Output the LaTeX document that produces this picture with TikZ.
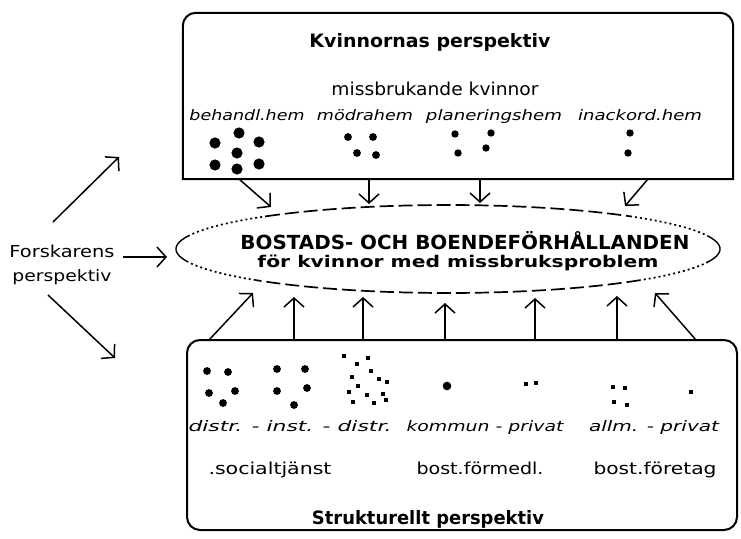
\documentclass[tikz,border=0pt]{standalone}
\usepackage{fontspec}
\setmainfont{DejaVu Sans}
\usetikzlibrary{arrows.meta,calc,shapes.geometric}
\newcommand{\fitw}[3]{\resizebox{#1pt}{#2pt}{#3}}
\newcommand{\elarc}[3]{\draw[#1] plot[domain=#2:#3,samples=40] ({448+272*cos(\x)},{249+44*sin(\x)});}
\begin{document}
\begin{tikzpicture}[x=1pt,y=-1pt,
  boxline/.style={line width=2pt},
  arr/.style={line width=1.5pt,-{Straight Barb[length=9pt,width=20pt,line width=1.5pt]}},
  txt/.style={inner sep=0pt,anchor=base},
  elsolid/.style={line width=1.4pt},
  eldot/.style={line width=1.7pt,dash pattern=on 2pt off 3pt},
  eldash/.style={line width=1.7pt,dash pattern=on 14pt off 5pt}]
\useasboundingbox (0,0) rectangle (741,538);

% ---- top box ----
\node[minimum width=550pt,minimum height=166pt,inner sep=0pt] (kv) at (458,96) {};
\draw[boxline] (kv.south east) -- (kv.south west) -- ([yshift=-13pt]kv.north west)
  arc[start angle=180,end angle=90,radius=13pt]
  -- ([xshift=-13pt]kv.north east)
  arc[start angle=90,end angle=0,radius=13pt] -- cycle;
\node[txt] (kvt) at (430,47) {\fitw{241}{14}{\bfseries Kvinnornas perspektiv}};
\node[txt] (miss) at (435,95) {\fitw{207}{13.5}{missbrukande kvinnor}};
\node[txt] (h1) at (247,120) {\fitw{115}{11}{\itshape behandl.hem}};
\node[txt] (h2) at (365,120) {\fitw{96}{11}{\itshape mödrahem}};
\node[txt] (h3) at (494,120) {\fitw{136}{11}{\itshape planeringshem}};
\node[txt] (h4) at (640,120) {\fitw{124}{11}{\itshape inackord.hem}};
% dots
\foreach \p in {(215,143),(239,133),(259,142),(237,153),(215,165),(237,169),(259,164)}
  \fill \p circle (5.6);
\foreach \p in {(348,137),(373,137),(357,153),(376,155)}
  \fill \p circle (3.9);
\foreach \p in {(455,134),(491,133),(458,153),(486,148)}
  \fill \p circle (3.7);
\foreach \p in {(630,133),(628,153)}
  \fill \p circle (3.7);

% ---- ellipse ----
\node[ellipse,minimum width=544pt,minimum height=88pt,inner sep=0pt] (ell) at (448,249) {};
\elarc{elsolid}{163}{197}
\elarc{elsolid}{-17}{17}
\elarc{eldot}{197}{228}
\elarc{eldash}{228}{312}
\elarc{eldot}{312}{343}
\elarc{eldot}{17}{45}
\elarc{eldash}{45}{135}
\elarc{eldot}{135}{163}
\node[txt] (bos1) at (465,249) {\fitw{449}{18}{\bfseries BOSTADS- OCH BOENDEFÖRHÅLLANDEN}};
\node[txt] (bos2) at (458,267) {\fitw{401}{12.5}{\bfseries för kvinnor med missbruksproblem}};

% ---- researcher ----
\node[txt] (fo1) at (62,257) {\fitw{105}{12.5}{Forskarens}};
\node[txt] (fo2) at (62,281) {\fitw{99}{12}{perspektiv}};

% ---- bottom box ----
\node[draw,boxline,rounded corners=13pt,minimum width=550pt,minimum height=190pt,inner sep=0pt] (st) at (462,435) {};
\foreach \p in {(207,371),(228,372),(209,393),(235,391),(223,403)}
  \fill \p circle (3.9);
\foreach \p in {(277,369),(305,369),(277,391),(307,388),(294,405)}
  \fill \p circle (3.9);
\foreach \p in {(344,356),(357,364),(368,358),(371,371),(352,377),(379,379),(387,382),
  (358,386),(349,392),(367,395),(383,394),(353,402),(374,403),(386,400)}
  \fill \p ++(-1.9,-1.9) rectangle ++(3.8,3.8);
\fill (447,386) circle (4.3);
\foreach \p in {(526,384),(536,383),(613,387),(625,388),(614,402),(627,405),(691,392)}
  \fill \p ++(-1.9,-1.9) rectangle ++(3.8,3.8);
\node[txt] (d1) at (290,431) {\fitw{203}{11}{\itshape distr. - inst. - distr.}};
\node[txt] (d2) at (485,431) {\fitw{157}{11}{\itshape kommun - privat}};
\node[txt] (d3) at (654,431) {\fitw{130}{11}{\itshape allm. - privat}};
\node[txt] (s1) at (270,474) {\fitw{123}{12.5}{.socialtjänst}};
\node[txt] (s2) at (480,474) {\fitw{127}{12.5}{bost.förmedl.}};
\node[txt] (s3) at (655,474) {\fitw{123}{12.5}{bost.företag}};
\node[txt] (stt) at (428,524) {\fitw{232}{14}{\bfseries Strukturellt perspektiv}};

% ---- connector end points ----
\coordinate (t1) at (239,179); \coordinate (u1) at (271,207);
\coordinate (t2) at (369,179); \coordinate (u2) at (369,204);
\coordinate (t3) at (480,179); \coordinate (u3) at (480,203);
\coordinate (t4) at (648,179); \coordinate (u4) at (625,206);
\coordinate (b1) at (209,340); \coordinate (v1) at (253,293);
\coordinate (b2) at (294,340); \coordinate (v2) at (294,297);
\coordinate (b3) at (363,340); \coordinate (v3) at (363,297);
\coordinate (b4) at (445,340); \coordinate (v4) at (445,303);
\coordinate (b5) at (535,340); \coordinate (v5) at (535,298);
\coordinate (b6) at (617,340); \coordinate (v6) at (617,296);
\coordinate (b7) at (696,340); \coordinate (v7) at (655,293);
\coordinate (r1) at (53,222); \coordinate (w1) at (119,157);
\coordinate (r2) at (123,257); \coordinate (w2) at (167,257);
\coordinate (r3) at (48,295); \coordinate (w3) at (115,358);

\foreach \a/\b in {t1/u1,t2/u2,t3/u3,t4/u4,b1/v1,b2/v2,b3/v3,b4/v4,b5/v5,b6/v6,b7/v7,r1/w1,r2/w2,r3/w3}
  \draw[arr] (\a) -- (\b);
\end{tikzpicture}
\end{document}
